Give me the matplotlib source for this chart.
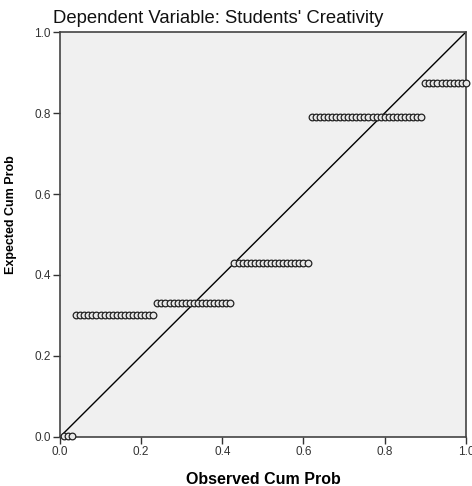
import numpy as np
import matplotlib.pyplot as plt

plt.rcParams['font.family'] = ['Liberation Sans', 'DejaVu Sans']

# number of cases at each step of the expected cum prob (N = 100)
step_counts = [3, 20, 19, 19, 28, 11]
expected_levels = [0.003, 0.30, 0.33, 0.43, 0.79, 0.875]
tick_vals = [0.0, 0.2, 0.4, 0.6, 0.8, 1.0]
tick_labels = ['0.0', '0.2', '0.4', '0.6', '0.8', '1.0']

n_total = sum(step_counts)
observed = np.arange(1, n_total + 1) / n_total
expected = np.repeat(expected_levels, step_counts)

fig = plt.figure(figsize=(4.72, 4.86), dpi=100)
ax = fig.add_axes([0.127, 0.101, 0.86, 0.833])
ax.set_facecolor('#f0f0f0')

ax.plot([0, 1], [0, 1], color='black', lw=1.0, zorder=2)
ax.plot(observed, expected, 'o', ms=4.8, mfc='#e8e8e8', mec='#222222', mew=0.9,
        zorder=3, clip_on=False)

ax.set_xlim(0, 1)
ax.set_ylim(0, 1)
ax.set_xticks(tick_vals)
ax.set_xticklabels(tick_labels)
ax.set_yticks(tick_vals)
ax.set_yticklabels(tick_labels)
ax.tick_params(length=5, width=1, labelsize=8.5, colors='#333333', pad=1.5)
for sp in ax.spines.values():
    sp.set_color('#444444')
    sp.set_linewidth(1.2)

ax.set_xlabel('Observed Cum Prob', fontsize=11.5, fontweight='bold', labelpad=10)
ax.set_ylabel('Expected Cum Prob', fontsize=9, fontweight='bold')
ax.yaxis.set_label_coords(-0.105, 0.548)
fig.text(0.112, 0.962, "Dependent Variable: Students' Creativity", fontsize=13.3,
         ha='left', va='center', color='#111111')

fig.savefig('out.png', dpi=100)
